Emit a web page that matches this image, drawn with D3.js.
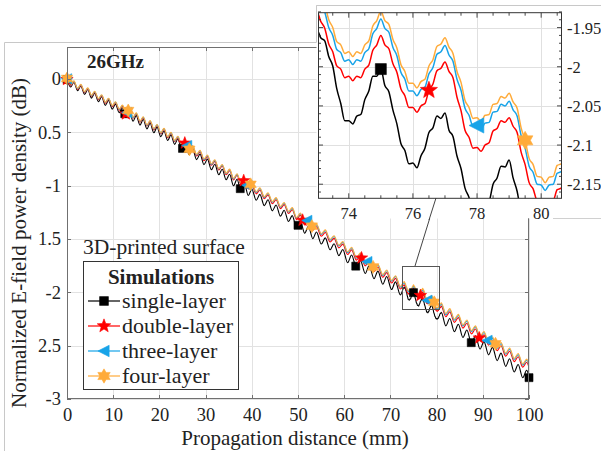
<!DOCTYPE html>
<html>
<head>
<meta charset="utf-8">
<script src="https://cdn.jsdelivr.net/npm/d3@7"></script>
<style>
  body { margin: 0; background: #fff; }
  svg { display: block; }
  text { font-family: "Liberation Serif", "Times New Roman", serif; fill: #222; }
</style>
</head>
<body>
<svg id="chart" width="601" height="451"></svg>
<script>
// Propagation distance (mm) of the plotted samples (peaks / troughs, fine detail 73-81 mm)
const xDist = [
  0, 0.8, 1.5, 2.3, 3.0, 3.8, 4.5, 5.3, 6.0, 6.8, 7.5, 8.3, 9.0, 9.8, 10.5, 11.3,
  12.0, 12.8, 13.5, 14.3, 15.0, 15.8, 16.5, 17.3, 18.0, 18.8, 19.5, 20.3, 21.0, 21.8, 22.5, 23.3,
  24.0, 24.85, 25.6, 26.45, 27.2, 28.05, 28.8, 29.65, 30.4, 31.25, 32.0, 32.85, 33.6, 34.45, 35.2, 36.05, 36.8, 37.65, 38.4, 39.25,
  40.0, 40.95, 41.75, 42.7, 43.5, 44.45, 45.25, 46.2, 47.0, 47.95, 48.75, 49.7, 50.5, 51.45, 52.25, 53.2,
  54.0, 55.05, 55.9, 56.95, 57.8, 58.85, 59.7, 60.75, 61.6, 62.65, 63.5, 64.55, 65.4, 66.45, 67.3, 68.35, 69.2, 70.25, 71.1, 72.15,
  73.0, 73.125, 73.25, 73.375, 73.5, 73.625, 73.75, 73.875,
  74.0, 74.125, 74.25, 74.375, 74.5, 74.625, 74.75, 74.875,
  75.0, 75.125, 75.25, 75.375, 75.5, 75.625, 75.75, 75.875,
  76.0, 76.125, 76.25, 76.375, 76.5, 76.625, 76.75, 76.875,
  77.0, 77.125, 77.25, 77.375, 77.5, 77.625, 77.75, 77.875,
  78.0, 78.125, 78.25, 78.375, 78.5, 78.625, 78.75, 78.875,
  79.0, 79.125, 79.25, 79.375, 79.5, 79.625, 79.75, 79.875,
  80.0, 80.125, 80.25, 80.375, 80.5, 80.625, 80.75, 80.875,
  81.0,
  82.0, 82.85, 83.85, 84.7, 85.7, 86.55, 87.55, 88.4, 89.4, 90.25, 91.25, 92.1, 93.1, 93.95, 94.95, 95.8, 96.8, 97.65, 98.65, 99.5, 100.0
];

// Normalized E-field power density (dB)
const ySingle = [
  -0.005, -0.075, -0.029, -0.110, -0.064, -0.144, -0.098, -0.179, -0.133, -0.213, -0.167, -0.247, -0.201, -0.282, -0.236, -0.316,
  -0.270, -0.359, -0.306, -0.396, -0.343, -0.432, -0.379, -0.468, -0.415, -0.504, -0.451, -0.541, -0.488, -0.577, -0.524, -0.613,
  -0.562, -0.661, -0.609, -0.709, -0.657, -0.756, -0.704, -0.803, -0.751, -0.851, -0.799, -0.898, -0.846, -0.945, -0.893, -1.001, -0.940, -1.047, -0.985, -1.092,
  -1.032, -1.137, -1.082, -1.187, -1.132, -1.236, -1.181, -1.286, -1.231, -1.336, -1.281, -1.396, -1.331, -1.446, -1.381, -1.497,
  -1.435, -1.547, -1.489, -1.601, -1.544, -1.656, -1.598, -1.722, -1.650, -1.772, -1.700, -1.823, -1.750, -1.873, -1.801, -1.924, -1.851, -1.974, -1.902, -2.024,
  -1.952, -1.963, -1.967, -1.987, -1.999, -2.028, -2.047, -2.069,
  -2.069, -2.073, -2.063, -2.061, -2.042, -2.031, -2.012, -2.012,
  -2.003, -2.024, -2.032, -2.055, -2.073, -2.098, -2.107, -2.124,
  -2.123, -2.129, -2.114, -2.104, -2.084, -2.078, -2.063, -2.066,
  -2.059, -2.081, -2.089, -2.114, -2.130, -2.155, -2.167, -2.186,
  -2.186, -2.193, -2.180, -2.173, -2.150, -2.142, -2.127, -2.128,
  -2.119, -2.142, -2.159, -2.187, -2.202, -2.225, -2.232, -2.247,
  -2.246, -2.253, -2.244, -2.243, -2.226, -2.218, -2.200, -2.198,
  -2.187,
  -2.314, -2.245, -2.369, -2.299, -2.423, -2.353, -2.478, -2.408, -2.532, -2.462, -2.586, -2.516, -2.640, -2.570, -2.694, -2.623, -2.747, -2.677, -2.801, -2.731, -2.800
];

const yDouble = [
  -0.005, -0.064, -0.028, -0.097, -0.060, -0.129, -0.093, -0.162, -0.125, -0.194, -0.158, -0.227, -0.190, -0.259, -0.223, -0.292,
  -0.255, -0.332, -0.291, -0.368, -0.328, -0.405, -0.364, -0.441, -0.400, -0.477, -0.436, -0.514, -0.473, -0.550, -0.509, -0.586,
  -0.552, -0.633, -0.596, -0.677, -0.640, -0.721, -0.684, -0.765, -0.728, -0.809, -0.772, -0.853, -0.816, -0.897, -0.860, -0.946, -0.903, -0.988, -0.945, -1.030,
  -0.994, -1.077, -1.040, -1.123, -1.086, -1.169, -1.132, -1.215, -1.178, -1.261, -1.226, -1.318, -1.276, -1.368, -1.326, -1.419,
  -1.385, -1.474, -1.439, -1.528, -1.494, -1.583, -1.548, -1.645, -1.602, -1.698, -1.655, -1.752, -1.709, -1.805, -1.762, -1.859, -1.815, -1.912, -1.869, -1.969,
  -1.929, -1.942, -1.951, -1.971, -1.981, -1.999, -2.003, -2.014,
  -2.012, -2.018, -2.012, -2.014, -2.003, -1.998, -1.979, -1.972,
  -1.960, -1.972, -1.977, -1.996, -2.007, -2.028, -2.037, -2.052,
  -2.052, -2.058, -2.050, -2.047, -2.030, -2.022, -2.005, -2.002,
  -1.994, -2.006, -2.014, -2.039, -2.056, -2.081, -2.090, -2.104,
  -2.103, -2.108, -2.100, -2.097, -2.082, -2.079, -2.069, -2.071,
  -2.065, -2.076, -2.084, -2.109, -2.125, -2.148, -2.156, -2.171,
  -2.172, -2.179, -2.172, -2.171, -2.157, -2.155, -2.142, -2.140,
  -2.129,
  -2.229, -2.183, -2.282, -2.237, -2.336, -2.290, -2.389, -2.344, -2.443, -2.397, -2.495, -2.449, -2.547, -2.501, -2.599, -2.552, -2.650, -2.604, -2.702, -2.656, -2.705
];

const yThree = [
  0.001, -0.058, -0.022, -0.091, -0.054, -0.123, -0.087, -0.156, -0.119, -0.188, -0.152, -0.221, -0.184, -0.253, -0.217, -0.286,
  -0.249, -0.326, -0.285, -0.362, -0.322, -0.399, -0.358, -0.435, -0.394, -0.471, -0.430, -0.508, -0.467, -0.544, -0.503, -0.580,
  -0.543, -0.624, -0.587, -0.668, -0.631, -0.712, -0.675, -0.756, -0.719, -0.800, -0.763, -0.844, -0.807, -0.888, -0.851, -0.937, -0.894, -0.979, -0.936, -1.021,
  -0.981, -1.064, -1.027, -1.110, -1.073, -1.156, -1.119, -1.202, -1.165, -1.248, -1.213, -1.305, -1.263, -1.355, -1.313, -1.406,
  -1.368, -1.457, -1.422, -1.511, -1.477, -1.566, -1.531, -1.628, -1.585, -1.681, -1.638, -1.735, -1.692, -1.788, -1.745, -1.842, -1.798, -1.895, -1.852, -1.952,
  -1.908, -1.921, -1.930, -1.950, -1.960, -1.978, -1.982, -1.993,
  -1.991, -1.997, -1.991, -1.993, -1.982, -1.977, -1.958, -1.951,
  -1.939, -1.951, -1.956, -1.975, -1.986, -2.007, -2.016, -2.031,
  -2.031, -2.037, -2.029, -2.026, -2.009, -2.001, -1.984, -1.981,
  -1.973, -1.985, -1.993, -2.016, -2.030, -2.053, -2.062, -2.076,
  -2.075, -2.080, -2.072, -2.071, -2.058, -2.057, -2.048, -2.050,
  -2.044, -2.055, -2.063, -2.088, -2.104, -2.127, -2.135, -2.150,
  -2.151, -2.158, -2.151, -2.150, -2.136, -2.134, -2.121, -2.119,
  -2.108,
  -2.209, -2.163, -2.262, -2.217, -2.316, -2.270, -2.369, -2.324, -2.423, -2.377, -2.475, -2.429, -2.527, -2.481, -2.579, -2.532, -2.630, -2.584, -2.682, -2.636, -2.685
];

const yFour = [
  0.005, -0.054, -0.018, -0.087, -0.050, -0.119, -0.083, -0.152, -0.115, -0.184, -0.148, -0.217, -0.180, -0.249, -0.213, -0.282,
  -0.245, -0.322, -0.281, -0.358, -0.318, -0.395, -0.354, -0.431, -0.390, -0.467, -0.426, -0.504, -0.463, -0.540, -0.499, -0.576,
  -0.537, -0.618, -0.581, -0.662, -0.625, -0.706, -0.669, -0.750, -0.713, -0.794, -0.757, -0.838, -0.801, -0.882, -0.845, -0.931, -0.888, -0.973, -0.930, -1.015,
  -0.974, -1.057, -1.020, -1.103, -1.066, -1.149, -1.112, -1.195, -1.158, -1.241, -1.206, -1.298, -1.256, -1.348, -1.306, -1.399,
  -1.360, -1.449, -1.414, -1.503, -1.469, -1.558, -1.523, -1.620, -1.577, -1.673, -1.630, -1.727, -1.684, -1.780, -1.737, -1.834, -1.790, -1.887, -1.844, -1.944,
  -1.898, -1.911, -1.920, -1.940, -1.950, -1.968, -1.972, -1.983,
  -1.981, -1.987, -1.981, -1.983, -1.972, -1.967, -1.948, -1.941,
  -1.929, -1.941, -1.946, -1.965, -1.976, -1.997, -2.006, -2.021,
  -2.021, -2.027, -2.019, -2.016, -1.999, -1.991, -1.974, -1.971,
  -1.963, -1.975, -1.983, -2.006, -2.020, -2.043, -2.052, -2.066,
  -2.065, -2.070, -2.062, -2.061, -2.048, -2.047, -2.038, -2.040,
  -2.034, -2.045, -2.053, -2.078, -2.094, -2.117, -2.125, -2.140,
  -2.141, -2.148, -2.141, -2.140, -2.126, -2.124, -2.111, -2.109,
  -2.098,
  -2.199, -2.153, -2.252, -2.207, -2.306, -2.260, -2.359, -2.314, -2.413, -2.367, -2.465, -2.419, -2.517, -2.471, -2.569, -2.522, -2.620, -2.574, -2.672, -2.626, -2.675
];

// Marker positions along each curve (mm)
const markSingle = [0, 12.5, 25, 37.5, 50, 62.5, 75, 87.5, 100];
const markDouble = [0, 12.75, 25.5, 38.25, 51, 63.75, 76.5, 89.25];
const markThree  = [0, 13, 26, 39, 52, 65, 78, 91];
const markFour   = [0, 13.25, 26.5, 39.75, 53, 66.25, 79.5, 92.75];

const seriesNames  = ["single-layer", "double-layer", "three-layer", "four-layer"];
const seriesColors = ["#000000", "#ff0000", "#17a3e8", "#ffab3a"];
const seriesShapes = ["square", "star", "triangle", "hexagram"];

const xTicks = [0, 10, 20, 30, 40, 50, 60, 70, 80, 90, 100];
const yTicks = [0, -0.5, -1, -1.5, -2, -2.5, -3];
const yTickLabels = ["0", "0.5", "-1", "1.5", "-2", "2.5", "-3"];

const insetXTicks = [74, 76, 78, 80];
const insetYTicks = [-1.95, -2, -2.05, -2.1, -2.15];
const insetYTickLabels = ["-1.95", "-2", "-2.05", "-2.1", "-2.15"];

const series = [ySingle, yDouble, yThree, yFour].map((ys, i) => ({
  name: seriesNames[i], color: seriesColors[i], shape: seriesShapes[i],
  pts: xDist.map((x, j) => [x, ys[j]]),
  marks: [markSingle, markDouble, markThree, markFour][i]
}));

const svg = d3.select("#chart");

// value of a curve at distance x, along its sampled polyline
const bis = d3.bisector(d => d[0]).left;
function valueAt(pts, x) {
  const i = bis(pts, x);
  if (i <= 0) return pts[0][1];
  if (i >= pts.length) return pts[pts.length - 1][1];
  const a = pts[i - 1], b = pts[i];
  const t = (x - a[0]) / (b[0] - a[0]);
  return a[1] + t * (b[1] - a[1]);
}

function markerPath(shape, r) {
  if (shape === "square") {
    return `M${-r},${-r}H${r}V${r}H${-r}Z`;
  }
  if (shape === "triangle") {
    return `M${-r},0L${r * 0.85},${-r * 0.95}L${r * 0.85},${r * 0.95}Z`;
  }
  const n = shape === "star" ? 5 : 6;
  const inner = shape === "star" ? 0.42 : 0.58;
  const p = d3.path();
  for (let k = 0; k < 2 * n; k++) {
    const rr = k % 2 === 0 ? r : r * inner;
    const a = -Math.PI / 2 + k * Math.PI / n;
    const px = rr * Math.cos(a), py = rr * Math.sin(a);
    if (k === 0) p.moveTo(px, py); else p.lineTo(px, py);
  }
  p.closePath();
  return p.toString();
}
const markerSize = { main: { square: 4, star: 6.5, triangle: 5.5, hexagram: 6.5 },
                     inset: { square: 5.5, star: 9, triangle: 8, hexagram: 9 } };

// ---------- outer frame ----------
svg.append("path").attr("d", "M4.5,451V42.5H316.5V5.5H601")
  .attr("fill", "none").attr("stroke", "#c8c8c8").attr("stroke-width", 1);

// ---------- main axes ----------
const L = 67, R = 529, T = 47, B = 399;
const x = d3.scaleLinear().domain([0, 100]).range([L, R]);
const y = d3.scaleLinear().domain([-3, 0.3]).range([B, T]);

svg.append("clipPath").attr("id", "clipMain")
  .append("rect").attr("x", L).attr("y", T).attr("width", R - L).attr("height", B - T);

const grid = svg.append("g").attr("stroke", "#e2e2e2").attr("stroke-width", 1);
grid.selectAll("line.gx").data(xTicks).join("line")
  .attr("x1", d => Math.round(x(d)) + 0.5).attr("x2", d => Math.round(x(d)) + 0.5)
  .attr("y1", T).attr("y2", B);
grid.selectAll("line.gy").data(yTicks).join("line")
  .attr("y1", d => Math.round(y(d)) + 0.5).attr("y2", d => Math.round(y(d)) + 0.5)
  .attr("x1", L).attr("x2", R);

const lineMain = d3.line().x(d => x(d[0])).y(d => y(d[1])).curve(d3.curveMonotoneX);
const curvesMain = svg.append("g").attr("clip-path", "url(#clipMain)");
series.forEach(s => {
  curvesMain.append("path").attr("d", lineMain(s.pts))
    .attr("fill", "none").attr("stroke", s.color).attr("stroke-width", 1.1);
});
series.forEach(s => {
  svg.append("g").selectAll("path").data(s.marks).join("path")
    .attr("transform", d => `translate(${x(d)},${y(valueAt(s.pts, d))})`)
    .attr("d", markerPath(s.shape, markerSize.main[s.shape]))
    .attr("fill", s.color).attr("stroke", s.color).attr("stroke-width", 0.6);
});

// axes box and ticks
const axisCol = "#707070";
svg.append("rect").attr("x", L + 0.5).attr("y", T + 0.5).attr("width", R - L - 1).attr("height", B - T - 1)
  .attr("fill", "none").attr("stroke", axisCol).attr("stroke-width", 1);
const axB = d3.axisBottom(x).tickValues(xTicks).tickSize(0).tickPadding(0).tickFormat(d3.format("d"));
const gxMain = svg.append("g").attr("transform", `translate(0,${B})`).call(axB);
gxMain.select(".domain").remove();
gxMain.selectAll("text").attr("y", 22).attr("dy", null).attr("font-size", 18.5).attr("fill", "#222")
  .attr("font-family", "Liberation Serif");
const axL = d3.axisLeft(y).tickValues(yTicks).tickSize(0).tickPadding(0)
  .tickFormat((d, i) => yTickLabels[i]);
const gyMain = svg.append("g").attr("transform", `translate(${L},0)`).call(axL);
gyMain.select(".domain").remove();
gyMain.selectAll("text").attr("x", -6).attr("font-size", 18.5).attr("fill", "#222")
  .attr("font-family", "Liberation Serif");

const ticks = svg.append("g").attr("stroke", axisCol).attr("stroke-width", 1);
xTicks.forEach(d => {
  const px = Math.round(x(d)) + 0.5;
  ticks.append("line").attr("x1", px).attr("x2", px).attr("y1", B).attr("y2", B - 4);
  ticks.append("line").attr("x1", px).attr("x2", px).attr("y1", T).attr("y2", T + 4);
});
yTicks.forEach(d => {
  const py = Math.round(y(d)) + 0.5;
  ticks.append("line").attr("y1", py).attr("y2", py).attr("x1", L).attr("x2", L + 4);
  ticks.append("line").attr("y1", py).attr("y2", py).attr("x1", R).attr("x2", R - 4);
});

svg.append("text").attr("x", 295).attr("y", 445).attr("text-anchor", "middle")
  .attr("font-size", 21).text("Propagation distance (mm)");
svg.append("text").attr("transform", "translate(26,243) rotate(-90)").attr("text-anchor", "middle")
  .attr("font-size", 21).text("Normalized E-field power density (dB)");

svg.append("text").attr("x", 87).attr("y", 68).attr("font-size", 19).attr("font-weight", "bold")
  .text("26GHz");

// zoomed region marker and connector
svg.append("rect").attr("x", 402.5).attr("y", 266.5).attr("width", 37).attr("height", 43)
  .attr("fill", "none").attr("stroke", "#555").attr("stroke-width", 1);
svg.append("line").attr("x1", 415).attr("y1", 266).attr("x2", 436).attr("y2", 198)
  .attr("stroke", "#444").attr("stroke-width", 1);

// ---------- legend ----------
svg.append("text").attr("x", 83).attr("y", 254).attr("font-size", 21.5).text("3D-printed surface");
const lg = svg.append("g");
lg.append("rect").attr("x", 83.5).attr("y", 261.5).attr("width", 155).attr("height", 128)
  .attr("fill", "#fff").attr("stroke", "#333").attr("stroke-width", 1);
lg.append("text").attr("x", 161).attr("y", 284).attr("text-anchor", "middle")
  .attr("font-size", 21).attr("font-weight", "bold").text("Simulations");
series.forEach((s, i) => {
  const ry = 301 + i * 25;
  lg.append("line").attr("x1", 88).attr("x2", 120).attr("y1", ry).attr("y2", ry)
    .attr("stroke", s.color).attr("stroke-width", 1.2);
  lg.append("path").attr("transform", `translate(104,${ry})`)
    .attr("d", markerPath(s.shape, markerSize.main[s.shape] * 1.1))
    .attr("fill", s.color).attr("stroke", s.color).attr("stroke-width", 0.6);
  lg.append("text").attr("x", 122).attr("y", ry + 7).attr("font-size", 22).text(s.name);
});

// ---------- inset ----------
const iL = 318, iR = 562, iT = 12.7, iB = 198.3;
const xi = d3.scaleLinear().domain([73.04, 80.65]).range([iL, iR]);
const yi = d3.scaleLinear().domain([-2.168, -1.931]).range([iB, iT]);

svg.append("rect").attr("x", 316.5).attr("y", 5.5).attr("width", 290).attr("height", 213)
  .attr("fill", "#fff").attr("stroke", "none");
svg.append("path").attr("d", "M316.5,42.5V5.5H601").attr("fill", "none")
  .attr("stroke", "#c8c8c8").attr("stroke-width", 1);
svg.append("path").attr("d", "M553,218.5H601").attr("fill", "none")
  .attr("stroke", "#d0d0d0").attr("stroke-width", 1);
svg.append("line").attr("x1", R - 0.5).attr("x2", R - 0.5).attr("y1", 218.5).attr("y2", 240)
  .attr("stroke", axisCol).attr("stroke-width", 1);
// connector continues over the inset background
svg.append("line").attr("x1", 429).attr("y1", 220).attr("x2", 436).attr("y2", 198)
  .attr("stroke", "#444").attr("stroke-width", 1);

svg.append("clipPath").attr("id", "clipInset")
  .append("rect").attr("x", iL).attr("y", iT).attr("width", iR - iL).attr("height", iB - iT);

const ig = svg.append("g").attr("stroke", "#e0e0e0").attr("stroke-width", 1);
insetXTicks.forEach(d => ig.append("line")
  .attr("x1", Math.round(xi(d)) + 0.5).attr("x2", Math.round(xi(d)) + 0.5).attr("y1", iT).attr("y2", iB));
insetYTicks.forEach(d => ig.append("line")
  .attr("y1", Math.round(yi(d)) + 0.5).attr("y2", Math.round(yi(d)) + 0.5).attr("x1", iL).attr("x2", iR));

const lineInset = d3.line().x(d => xi(d[0])).y(d => yi(d[1])).curve(d3.curveMonotoneX);
const curvesInset = svg.append("g").attr("clip-path", "url(#clipInset)");
series.forEach(s => {
  const pts = s.pts.filter(d => d[0] >= 72 && d[0] <= 82);
  curvesInset.append("path").attr("d", lineInset(pts))
    .attr("fill", "none").attr("stroke", s.color).attr("stroke-width", 1.5);
});
series.forEach(s => {
  const inside = s.marks.filter(d => d > 73.04 && d < 80.65);
  svg.append("g").selectAll("path").data(inside).join("path")
    .attr("transform", d => `translate(${xi(d)},${yi(valueAt(s.pts, d))})`)
    .attr("d", markerPath(s.shape, markerSize.inset[s.shape]))
    .attr("fill", s.color).attr("stroke", s.color).attr("stroke-width", 0.6);
});

// inset box, major and minor ticks
const inCol = "#333";
svg.append("rect").attr("x", iL + 0.5).attr("y", iT).attr("width", iR - iL - 1).attr("height", iB - iT)
  .attr("fill", "none").attr("stroke", inCol).attr("stroke-width", 1);
const it = svg.append("g").attr("stroke", inCol).attr("stroke-width", 0.9);
d3.range(73.5, 80.6, 0.5).forEach(d => {
  const len = insetXTicks.includes(d) ? 5 : 3;
  const px = xi(d);
  it.append("line").attr("x1", px).attr("x2", px).attr("y1", iB).attr("y2", iB - len);
  it.append("line").attr("x1", px).attr("x2", px).attr("y1", iT).attr("y2", iT + len);
});
d3.range(-2.16, -1.93, 0.01).forEach(d => {
  const major = insetYTicks.some(v => Math.abs(v - d) < 1e-6);
  const len = major ? 5 : 3;
  const py = yi(d);
  it.append("line").attr("y1", py).attr("y2", py).attr("x1", iL).attr("x2", iL + len);
  it.append("line").attr("y1", py).attr("y2", py).attr("x1", iR).attr("x2", iR - len);
});
insetXTicks.forEach(d => svg.append("text").attr("x", xi(d)).attr("y", 219)
  .attr("text-anchor", "middle").attr("font-size", 16.5).text(d));
insetYTicks.forEach((d, i) => svg.append("text").attr("x", iR + 5).attr("y", yi(d) + 6)
  .attr("font-size", 16.5).text(insetYTickLabels[i]));
</script>
</body>
</html>
